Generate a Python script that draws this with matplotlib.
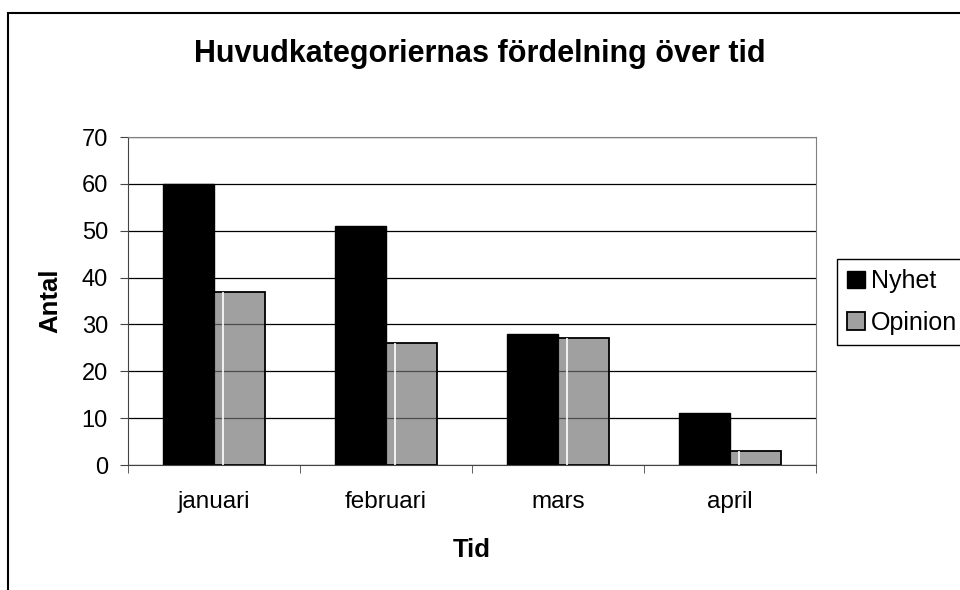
import numpy as np
import matplotlib.pyplot as plt
from matplotlib.patches import Rectangle

plt.rcParams['font.family'] = ['Liberation Sans', 'DejaVu Sans']

months = ['januari', 'februari', 'mars', 'april']
nyhet = [60, 51, 28, 11]
opinion = [37, 26, 27, 3]

fig = plt.figure(figsize=(9.6, 5.9), dpi=100)
# outer chart frame (runs off the bottom/right like the original)
fig.patches.append(Rectangle((8 / 960, -0.1), 1.1, (590 - 13) / 590 + 0.1,
                             transform=fig.transFigure, fill=False,
                             edgecolor='black', linewidth=1.5))

ax = fig.add_axes([128 / 960, 125 / 590, 688 / 960, 328 / 590])

x = np.arange(len(months))
w = 0.296
ax.bar(x - w / 2, nyhet, w, color='black', edgecolor='black', linewidth=1,
       label='Nyhet', zorder=2)
# semi-transparent grey so the gridlines show through, like the excel pattern fill
ax.bar(x + w / 2, opinion, w, color=(0.45, 0.45, 0.45, 0.68), edgecolor='black',
       linewidth=1.3, label='Opinion', zorder=2)
ax.vlines(x + 0.18 * w, 0, opinion, color='white', linewidth=1.2, zorder=3)

ax.set_ylim(0, 70)
ax.set_yticks(range(0, 71, 10))
ax.set_xlim(-0.5, 3.5)
ax.yaxis.grid(True, color='black', linewidth=0.9)
ax.set_axisbelow(True)

ax.set_xticks(x)
ax.set_xticklabels(months)
ax.set_xticks(np.arange(-0.5, 4, 1), minor=True)
ax.tick_params(axis='x', which='major', length=0, pad=19, labelsize=17.5)
ax.tick_params(axis='x', which='minor', length=5.5, direction='out', color='#444444')
ax.tick_params(axis='y', length=5.5, direction='out', labelsize=17, pad=9,
               color='#444444')

for s in ['top', 'right']:
    ax.spines[s].set_color('#808080')
ax.spines['left'].set_color('#444444')
ax.spines['bottom'].set_color('#444444')

ax.set_xlabel('Tid', fontsize=18.5, fontweight='bold', labelpad=18)
ax.set_ylabel('Antal', fontsize=18.5, fontweight='bold', labelpad=14)
fig.text(0.5, (590 - 54) / 590, 'Huvudkategoriernas fördelning över tid',
         ha='center', va='center', fontsize=22, fontweight='bold')

leg = fig.legend(*ax.get_legend_handles_labels(), loc='center left',
                 bbox_to_anchor=(837 / 960, (590 - 302) / 590),
                 borderaxespad=0, fontsize=18, frameon=True, fancybox=False,
                 edgecolor='black', framealpha=1,
                 handlelength=0.72, handleheight=0.72, handletextpad=0.25,
                 borderpad=0.4, labelspacing=0.7)
leg.get_frame().set_linewidth(1)

fig.savefig('out.png', dpi=100)
